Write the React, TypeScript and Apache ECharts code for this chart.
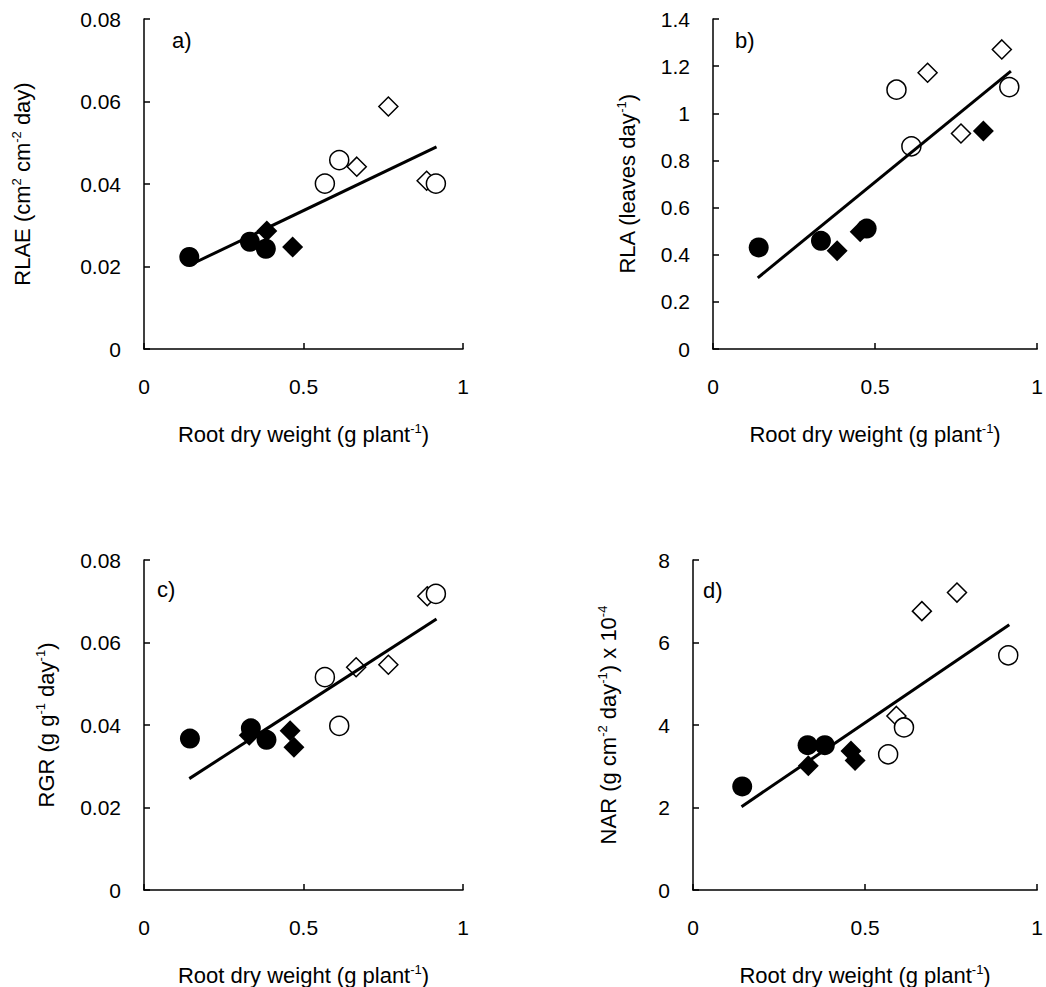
import React, { useEffect, useRef } from "react";
import * as echarts from "echarts";

// ---- Data (x = root dry weight g/plant) ----
// Panel a) RLAE
const aFilledCircle = [[0.142, 0.0223], [0.332, 0.026], [0.382, 0.0243]];
const aFilledDiamond = [[0.385, 0.0286], [0.466, 0.0247]];
const aOpenCircle = [[0.567, 0.0401], [0.612, 0.0458], [0.915, 0.0401]];
const aOpenDiamond = [[0.667, 0.0442], [0.766, 0.0588], [0.886, 0.0408]];
const aTrend = [[0.142, 0.0203], [0.917, 0.049]];

// Panel b) RLA
const bFilledCircle = [[0.141, 0.431], [0.333, 0.459], [0.474, 0.511]];
const bFilledDiamond = [[0.383, 0.417], [0.454, 0.497], [0.834, 0.925]];
const bOpenCircle = [[0.566, 1.1], [0.612, 0.86], [0.914, 1.111]];
const bOpenDiamond = [[0.662, 1.172], [0.765, 0.914], [0.891, 1.271]];
const bTrend = [[0.138, 0.302], [0.919, 1.179]];

// Panel c) RGR
const cFilledCircle = [[0.144, 0.0367], [0.335, 0.0392], [0.384, 0.0364]];
const cFilledDiamond = [[0.33, 0.0375], [0.458, 0.0386], [0.47, 0.0346]];
const cOpenCircle = [[0.567, 0.0516], [0.612, 0.0398], [0.915, 0.0718]];
const cOpenDiamond = [[0.665, 0.054], [0.766, 0.0546], [0.888, 0.0712]];
const cTrend = [[0.142, 0.027], [0.917, 0.0657]];

// Panel d) NAR
const dFilledCircle = [[0.143, 2.51], [0.333, 3.51], [0.383, 3.51]];
const dFilledDiamond = [[0.335, 3.01], [0.459, 3.37], [0.471, 3.14]];
const dOpenCircle = [[0.567, 3.29], [0.613, 3.94], [0.916, 5.69]];
const dOpenDiamond = [[0.591, 4.22], [0.665, 6.76], [0.767, 7.21]];
const dTrend = [[0.141, 2.02], [0.919, 6.43]];

const xTitle = "Root dry weight (g plant{sup|-1})";
const yTitles = [
  "RLAE (cm{sup|2} cm{sup|-2} day)",
  "RLA (leaves day{sup|-1})",
  "RGR (g g{sup|-1} day{sup|-1})",
  "NAR (g cm{sup|-2} day{sup|-1}) x 10{sup|-4}",
];
const panelLabels = ["a)", "b)", "c)", "d)"];
const yMax = [0.08, 1.4, 0.08, 8];
const yInterval = [0.02, 0.2, 0.02, 2];

const FONT = "'Liberation Sans', Arial, sans-serif";
const TICK_FS = 21;
const TITLE_FS = 22;

const grids = [
  { left: 144, top: 19, width: 319, height: 330 },
  { left: 713, top: 19, width: 330, height: 330 },
  { left: 144, top: 560, width: 319, height: 330 },
  { left: 693, top: 560, width: 350, height: 330 },
];
const yNameGaps = [110, 74, 86, 73];
const labelPos = [
  { left: 172, top: 29 },
  { left: 735, top: 29 },
  { left: 157, top: 578 },
  { left: 703, top: 579 },
];

const richSup = {
  base: { fontSize: TITLE_FS, fontFamily: FONT, color: "#000" },
  sup: {
    fontSize: 13,
    fontFamily: FONT,
    color: "#000",
    verticalAlign: "top",
    lineHeight: 24,
  },
};

const panels = [
  [aFilledDiamond, aOpenDiamond, aFilledCircle, aOpenCircle, aTrend],
  [bFilledDiamond, bOpenDiamond, bFilledCircle, bOpenCircle, bTrend],
  [cFilledDiamond, cOpenDiamond, cFilledCircle, cOpenCircle, cTrend],
  [dFilledDiamond, dOpenDiamond, dFilledCircle, dOpenCircle, dTrend],
];

export default function App() {
  const ref = useRef<HTMLDivElement>(null);
  useEffect(() => {
    if (!ref.current) return;
    const chart = echarts.init(ref.current, undefined, { renderer: "svg" });
    const axisLine = { show: true, lineStyle: { color: "#000", width: 1.5 } };
    const axisTick = { show: true, inside: true, length: 6, lineStyle: { color: "#000", width: 1.5 } };
    const xAxis = grids.map((_, i) => ({
      type: "value",
      gridIndex: i,
      min: 0,
      max: 1,
      interval: 0.5,
      axisLine,
      axisTick,
      splitLine: { show: false },
      axisLabel: { color: "#000", fontSize: TICK_FS, fontFamily: FONT, margin: 27 },
      name: xTitle,
      nameLocation: "middle",
      nameGap: 73,
      nameTextStyle: { color: "#000", fontSize: TITLE_FS, fontFamily: FONT, rich: richSup },
    }));
    const yAxis = grids.map((_, i) => ({
      type: "value",
      gridIndex: i,
      min: 0,
      max: yMax[i],
      interval: yInterval[i],
      axisLine,
      axisTick,
      splitLine: { show: false },
      axisLabel: { color: "#000", fontSize: TICK_FS, fontFamily: FONT, margin: 23 },
      name: yTitles[i],
      nameLocation: "middle",
      nameGap: yNameGaps[i],
      nameRotate: 90,
      nameTextStyle: { color: "#000", fontSize: TITLE_FS, fontFamily: FONT, rich: richSup },
    }));
    const series: any[] = [];
    panels.forEach((p, i) => {
      const [fd, od, fc, oc, tr] = p;
      series.push({
        type: "scatter", xAxisIndex: i, yAxisIndex: i, data: fd,
        symbol: "diamond", symbolSize: 21,
        itemStyle: { color: "#000", opacity: 1 }, z: 2,
      });
      series.push({
        type: "scatter", xAxisIndex: i, yAxisIndex: i, data: od,
        symbol: "diamond", symbolSize: 19,
        itemStyle: { color: "#fff", borderColor: "#000", borderWidth: 1.5, opacity: 1 }, z: 2,
      });
      series.push({
        type: "scatter", xAxisIndex: i, yAxisIndex: i, data: fc,
        symbol: "circle", symbolSize: 20,
        itemStyle: { color: "#000", opacity: 1 }, z: 2,
      });
      series.push({
        type: "scatter", xAxisIndex: i, yAxisIndex: i, data: oc,
        symbol: "circle", symbolSize: 19,
        itemStyle: { color: "#fff", borderColor: "#000", borderWidth: 1.5, opacity: 1 }, z: 2,
      });
      series.push({
        type: "line", xAxisIndex: i, yAxisIndex: i, data: tr,
        showSymbol: false, symbol: "none",
        lineStyle: { color: "#000", width: 3 }, z: 5,
      });
    });
    chart.setOption({
      animation: false,
      backgroundColor: "#fff",
      textStyle: { fontFamily: FONT },
      grid: grids.map((g) => ({ ...g, containLabel: false })),
      xAxis,
      yAxis,
      series,
      graphic: panelLabels.map((t, i) => ({
        type: "text",
        left: labelPos[i].left,
        top: labelPos[i].top,
        style: { text: t, fontSize: 22, fontFamily: FONT, fill: "#000" },
        z: 10,
      })),
    });
    return () => chart.dispose();
  }, []);
  return (
    <div
      ref={ref}
      style={{ position: "absolute", left: 0, top: 0, width: 1046, height: 987, background: "#fff" }}
    />
  );
}
